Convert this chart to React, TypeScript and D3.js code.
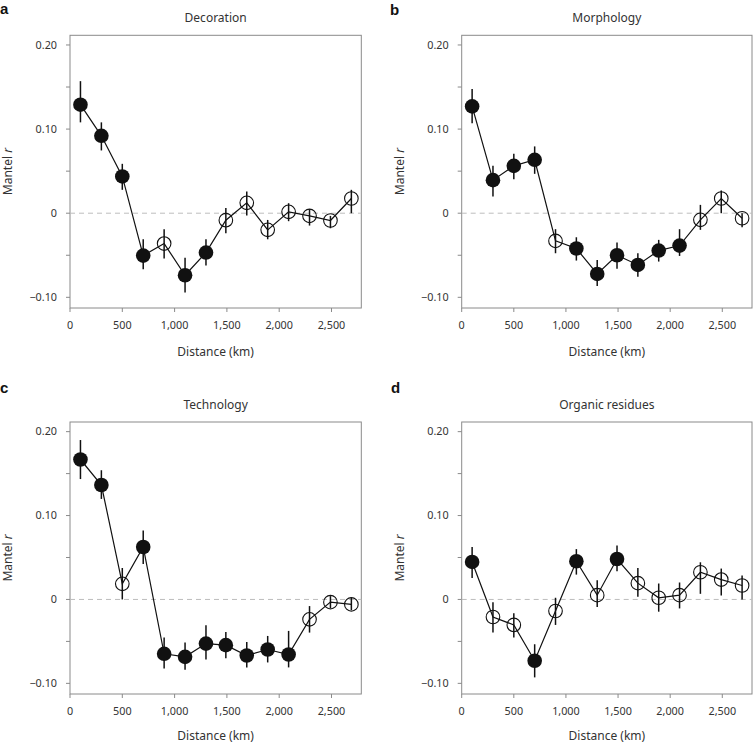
import React from "react";
import * as d3 from "d3";

const distances = [100, 300, 500, 700, 900, 1100, 1300, 1490, 1690, 1890, 2090, 2290, 2490, 2690];

const decorationR = [0.129, 0.092, 0.0437, -0.0504, -0.0361, -0.0738, -0.0468, -0.0083, 0.0123, -0.0198, 0.0016, -0.0032, -0.0087, 0.0175];
const decorationLow = [0.108, 0.0746, 0.0278, -0.0667, -0.054, -0.0944, -0.0623, -0.0238, -0.0028, -0.031, -0.0095, -0.0147, -0.0179, 0.0];
const decorationHigh = [0.157, 0.108, 0.0587, -0.031, -0.019, -0.053, -0.031, 0.0063, 0.0258, -0.008, 0.0119, 0.0048, -0.0032, 0.0278];
const decorationSignificant = [1, 1, 1, 1, 0, 1, 1, 0, 0, 0, 0, 0, 0, 0];

const morphologyR = [0.127, 0.0393, 0.0563, 0.0635, -0.0329, -0.042, -0.0722, -0.05, -0.0615, -0.0444, -0.0385, -0.0079, 0.0175, -0.006];
const morphologyLow = [0.107, 0.0198, 0.0405, 0.0468, -0.0476, -0.0563, -0.0865, -0.0659, -0.0754, -0.0575, -0.0508, -0.0198, 0.0, -0.0167];
const morphologyHigh = [0.1476, 0.0563, 0.0706, 0.0794, -0.019, -0.0286, -0.0556, -0.0349, -0.0476, -0.0317, -0.019, 0.0099, 0.027, 0.0];
const morphologySignificant = [1, 1, 1, 1, 0, 1, 1, 1, 1, 1, 1, 0, 0, 0];

const technologyR = [0.1668, 0.1364, 0.0186, 0.0625, -0.0648, -0.0684, -0.0526, -0.0545, -0.0668, -0.0597, -0.0656, -0.0237, -0.0032, -0.0059];
const technologyLow = [0.1435, 0.1198, 0.0, 0.0423, -0.0822, -0.0838, -0.0715, -0.07, -0.081, -0.0751, -0.081, -0.0395, -0.0107, -0.013];
const technologyHigh = [0.19, 0.154, 0.0375, 0.0822, -0.0455, -0.0514, -0.0308, -0.0387, -0.0506, -0.0435, -0.0375, -0.0079, 0.004, 0.002];
const technologySignificant = [1, 1, 0, 1, 1, 1, 1, 1, 1, 1, 1, 0, 0, 0];

const organicR = [0.0447, -0.0209, -0.0304, -0.0731, -0.0138, 0.0455, 0.0051, 0.0482, 0.0194, 0.002, 0.0051, 0.0324, 0.0237, 0.0166];
const organicLow = [0.0257, -0.0395, -0.0455, -0.0929, -0.0304, 0.0296, -0.0091, 0.0336, 0.0032, -0.0146, -0.0107, 0.0067, 0.0047, 0.0];
const organicHigh = [0.0625, -0.0032, -0.0166, -0.0534, 0.002, 0.06, 0.0229, 0.0644, 0.0375, 0.019, 0.0202, 0.0443, 0.0368, 0.0285];
const organicSignificant = [1, 0, 0, 1, 0, 1, 0, 1, 0, 0, 0, 0, 0, 0];

const panelLetters = ["a", "b", "c", "d"];
const panelTitles = ["Decoration", "Morphology", "Technology", "Organic residues"];
const yTickValues = [-0.1, -0.05, 0, 0.05, 0.1, 0.15, 0.2];
const yTickLabels: Record<string, string> = { "-0.1": "\u22120.10", "0": "0", "0.1": "0.10", "0.2": "0.20" };
const xTickValues = [0, 500, 1000, 1500, 2000, 2500];

const W = 753;
const H = 744;
const FONT = "'Noto Sans', sans-serif";
const AXIS = "#8a8a8a";
const TEXT = "#333";

const layouts = [
  { left: 70, right: 361.3, top: 35.3, bottom: 308, lx: 0, ly: 14, xl: 43.5 },
  { left: 461.7, right: 752, top: 35.3, bottom: 308, lx: 390, ly: 14.5, xl: 43.5 },
  { left: 70, right: 361.3, top: 422, bottom: 694, lx: 0, ly: 393, xl: 41.5 },
  { left: 461.7, right: 752, top: 422, bottom: 694, lx: 391, ly: 393, xl: 41.5 },
];

const series = [
  { r: decorationR, lo: decorationLow, hi: decorationHigh, sig: decorationSignificant },
  { r: morphologyR, lo: morphologyLow, hi: morphologyHigh, sig: morphologySignificant },
  { r: technologyR, lo: technologyLow, hi: technologyHigh, sig: technologySignificant },
  { r: organicR, lo: organicLow, hi: organicHigh, sig: organicSignificant },
];

function Panel({ idx }: { idx: number }) {
  const L = layouts[idx];
  const s = series[idx];
  const x = d3.scaleLinear().domain([0, 2785]).range([L.left, L.right]);
  const y = d3.scaleLinear().domain([-0.1127, 0.2115]).range([L.bottom, L.top]);
  const fmt = d3.format(",");
  const pts = distances.map((d, i) => ({ d, r: s.r[i], lo: s.lo[i], hi: s.hi[i], sig: s.sig[i] }));
  const line = d3
    .line<{ d: number; r: number }>()
    .x((p) => x(p.d))
    .y((p) => y(p.r));
  const cx = (L.left + L.right) / 2;
  const cy = (L.top + L.bottom) / 2;
  return (
    <g>
      <text x={L.lx} y={L.ly} fontFamily="'Liberation Sans', Arial, sans-serif" fontWeight="bold" fontSize={15} fill="#111">
        {panelLetters[idx]}
      </text>
      <text x={cx} y={L.top - 13.5} textAnchor="middle" fontFamily={FONT} fontSize={12} fill={TEXT}>
        {panelTitles[idx]}
      </text>
      <rect x={L.left} y={L.top} width={L.right - L.left} height={L.bottom - L.top} fill="none" stroke={AXIS} strokeWidth={1} />
      {yTickValues.map((v) => {
        const key = String(Math.round(v * 100) / 100);
        const lab = yTickLabels[key];
        return (
          <g key={"y" + v}>
            <line x1={L.left - 4} x2={L.left} y1={y(v)} y2={y(v)} stroke={AXIS} strokeWidth={1} />
            {lab !== undefined && (
              <text x={L.left - 13} y={y(v)} dy="0.35em" textAnchor="end" fontFamily={FONT} fontSize={10.8} fill={TEXT}>
                {lab}
              </text>
            )}
          </g>
        );
      })}
      {xTickValues.map((v) => (
        <g key={"x" + v}>
          <line x1={x(v)} x2={x(v)} y1={L.bottom} y2={L.bottom + 4} stroke={AXIS} strokeWidth={1} />
          <text x={x(v)} y={L.bottom + 17} dy="0.35em" textAnchor="middle" fontFamily={FONT} fontSize={10.8} fill={TEXT}>
            {fmt(v)}
          </text>
        </g>
      ))}
      <text x={cx} y={L.bottom + L.xl} dy="0.35em" textAnchor="middle" fontFamily={FONT} fontSize={12} fill={TEXT}>
        Distance (km)
      </text>
      <text
        transform={`translate(${L.left - 62},${cy}) rotate(-90)`}
        dy="0.35em"
        textAnchor="middle"
        fontFamily={FONT}
        fontSize={12}
        fill={TEXT}
      >
        Mantel <tspan fontStyle="italic">r</tspan>
      </text>
      <line x1={L.left} x2={L.right} y1={y(0)} y2={y(0)} stroke="#bdbdbd" strokeWidth={1} strokeDasharray="5,4" />
      <path d={line(pts) || ""} fill="none" stroke="#111" strokeWidth={1.2} />
      {pts.map((p, i) => (
        <line key={"e" + i} x1={x(p.d)} x2={x(p.d)} y1={y(p.lo)} y2={y(p.hi)} stroke="#111" strokeWidth={1.5} />
      ))}
      {pts.map((p, i) =>
        p.sig ? (
          <circle key={"c" + i} cx={x(p.d)} cy={y(p.r)} r={7.3} fill="#111" />
        ) : (
          <circle key={"c" + i} cx={x(p.d)} cy={y(p.r)} r={6.8} fill="none" stroke="#111" strokeWidth={1.1} />
        )
      )}
    </g>
  );
}

export default function App() {
  return (
    <svg width={W} height={H} style={{ position: "absolute", left: 0, top: 0, background: "#fff" }}>
      <rect x={0} y={0} width={W} height={H} fill="#fff" />
      {[0, 1, 2, 3].map((i) => (
        <Panel key={i} idx={i} />
      ))}
    </svg>
  );
}
